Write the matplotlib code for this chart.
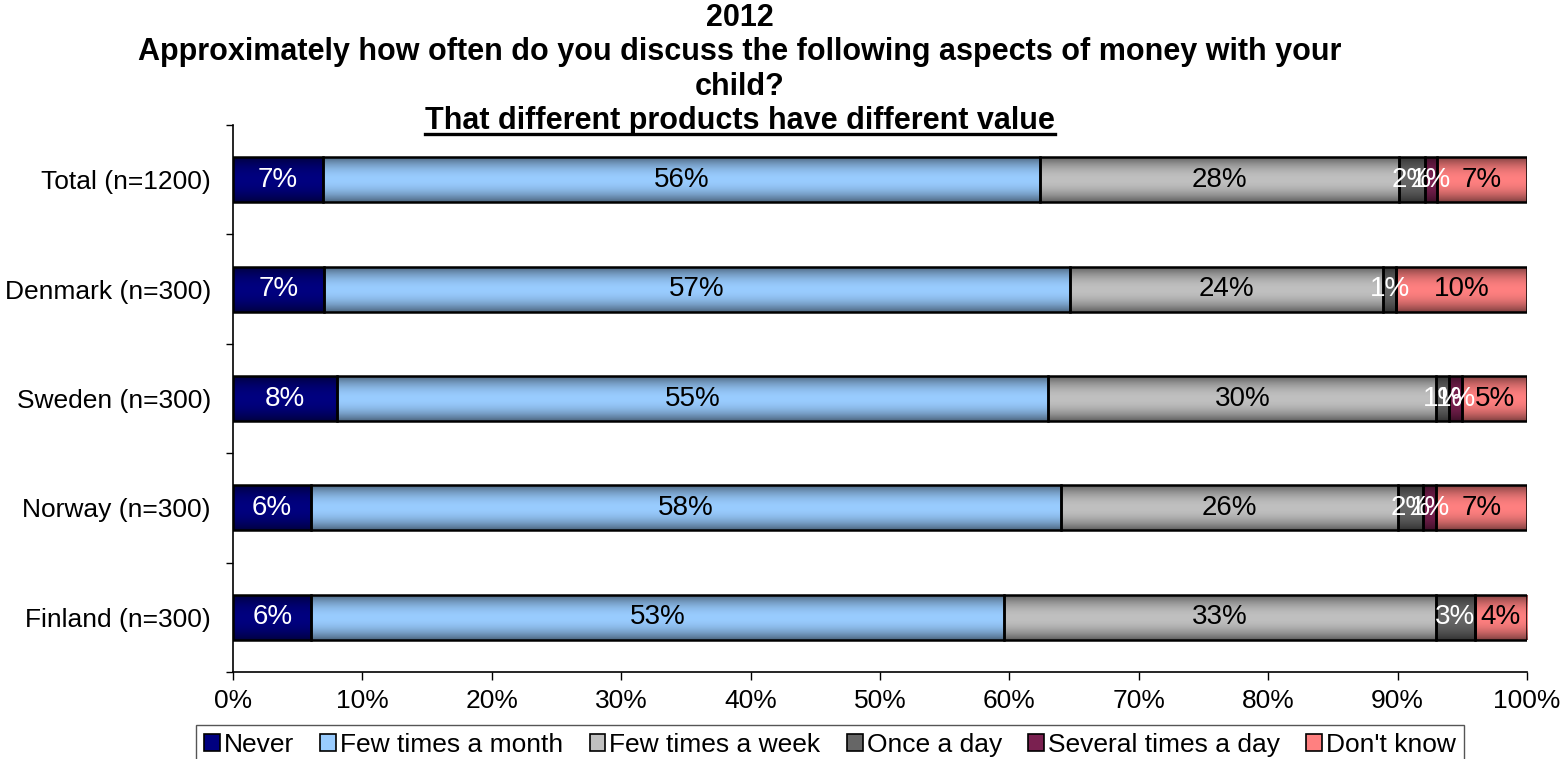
import matplotlib.pyplot as plt
import matplotlib.colors as mcolors
import numpy as np

plt.rcParams['font.family'] = ['Liberation Sans', 'DejaVu Sans']

groups = ['Total (n=1200)', 'Denmark (n=300)', 'Sweden (n=300)', 'Norway (n=300)', 'Finland (n=300)']
answers = ['Never', 'Few times a month', 'Few times a week', 'Once a day', 'Several times a day', "Don't know"]

never = [7, 7, 8, 6, 6]
few_month = [56, 57, 55, 58, 53]
few_week = [28, 24, 30, 26, 33]
once_day = [2, 1, 1, 2, 3]
several_day = [1, 0, 1, 1, 0]
dont_know = [7, 10, 5, 7, 4]

colors = ['#000080', '#99ccff', '#c0c0c0', '#666666', '#7a2050', '#ff8080']
text_colors = ['white', 'black', 'black', 'white', 'white', 'black']

vals = np.array([never, few_month, few_week, once_day, several_day, dont_know], dtype=float)
# 100% stacked: each row is scaled by its own total
shares = vals / vals.sum(axis=0) * 100

def shade(color, n=80):
    rgb = np.array(mcolors.to_rgb(color))
    t = np.linspace(0, 1, n)
    k = 0.5 + 0.5 * (1 - np.abs(2 * t - 1) ** 2)
    return np.clip(rgb[None, :] * k[:, None], 0, 1)[:, None, :]

fig = plt.figure(figsize=(15.6, 7.59), dpi=100)
ax = fig.add_axes([233 / 1560, 1 - 672 / 759, 1294 / 1560, 547 / 759])

y = np.arange(len(groups))
h = 0.41
left = np.zeros(len(groups))
handles = []
for i, name in enumerate(answers):
    bars = ax.barh(y, shares[i], left=left, height=h, facecolor='none',
                   edgecolor='black', linewidth=1.8, zorder=3)
    grad = shade(colors[i])
    for b in bars:
        x0, y0 = b.get_x(), b.get_y()
        w, hh = b.get_width(), b.get_height()
        if w <= 0:
            continue
        ax.imshow(grad, extent=[x0, x0 + w, y0 + hh, y0], aspect='auto',
                  interpolation='bilinear', zorder=2)
    for j in range(len(groups)):
        if vals[i, j] > 0:
            ax.text(left[j] + shares[i, j] / 2, y[j], f'{vals[i, j]:.0f}%',
                    ha='center', va='center', fontsize=20, color=text_colors[i], zorder=4)
    handles.append(plt.Rectangle((0, 0), 1, 1, facecolor=colors[i], edgecolor='black', linewidth=1.2))
    left += shares[i]

ax.set_xlim(0, 100)
ax.set_ylim(len(groups) - 0.5, -0.5)
ax.set_xticks(np.arange(0, 101, 10))
ax.set_xticklabels([f'{v}%' for v in range(0, 101, 10)], fontsize=19)
ax.set_yticks(y)
ax.set_yticklabels(groups, fontsize=19)
ax.tick_params(axis='y', length=0, pad=16)
ax.set_yticks(np.arange(-0.5, len(groups), 1), minor=True)
ax.tick_params(axis='y', which='minor', length=5, width=1)
ax.tick_params(axis='x', length=6, width=1, pad=6)
for s in ['top', 'right']:
    ax.spines[s].set_visible(False)
for s in ['left', 'bottom']:
    ax.spines[s].set_linewidth(1.2)

cx = 740 / 1560
tkw = dict(ha='center', va='center', fontsize=22, fontweight='bold')
fig.text(cx, 1 - 18 / 759, '2012', **tkw)
fig.text(cx, 1 - 52 / 759, 'Approximately how often do you discuss the following aspects of money with your', **tkw)
fig.text(cx, 1 - 87 / 759, 'child?', **tkw)
sub = fig.text(cx, 1 - 121 / 759, 'That different products have different value', **tkw)

# underline the subtitle
fig.canvas.draw()
bb = sub.get_window_extent(fig.canvas.get_renderer()).transformed(fig.transFigure.inverted())
fig.add_artist(plt.Line2D([bb.x0, bb.x1], [bb.y0 + 0.003, bb.y0 + 0.003], color='black', lw=2.4,
                          transform=fig.transFigure))

fig.legend(handles, answers, loc='center', bbox_to_anchor=(830 / 1560, 1 - 745 / 759), ncol=6,
           fontsize=19, frameon=True, fancybox=False, edgecolor='#555555', handlelength=0.6,
           handleheight=0.6, handletextpad=0.15, columnspacing=1.0, borderpad=0.3,
           framealpha=1)

fig.savefig('out.png', dpi=100)
